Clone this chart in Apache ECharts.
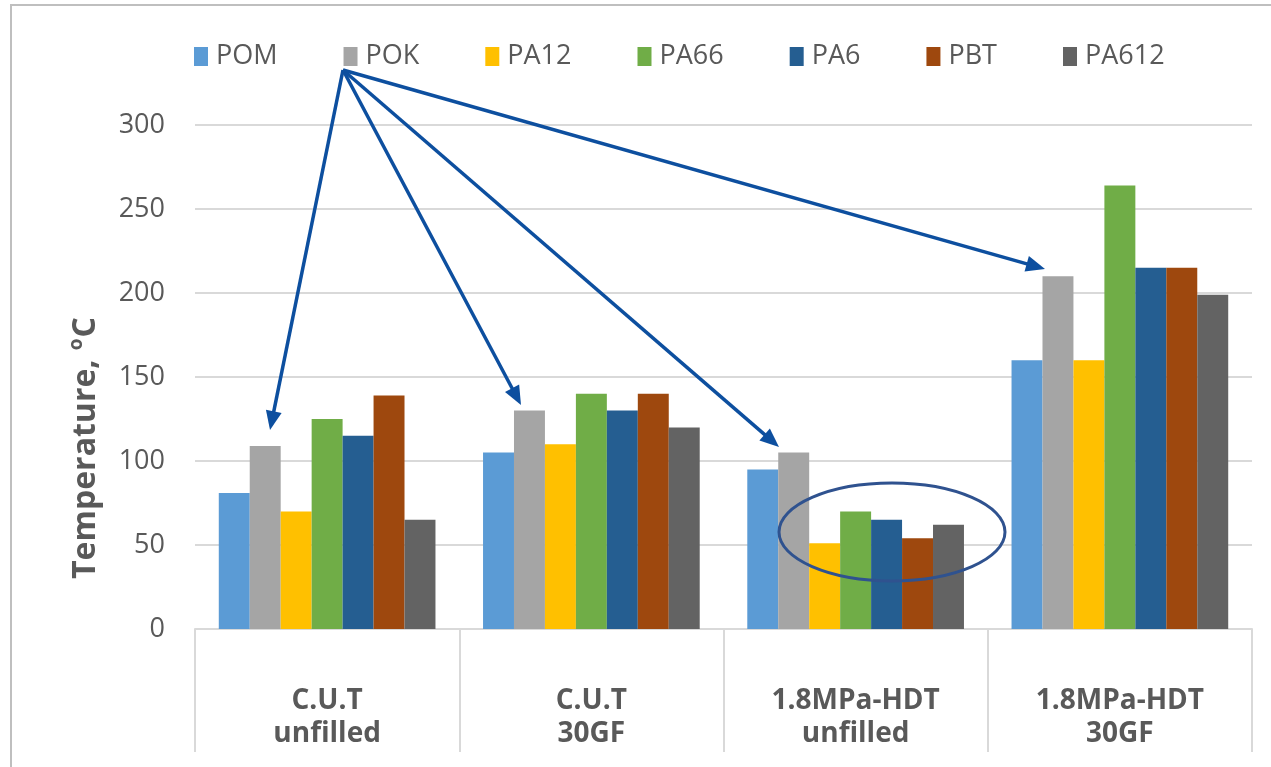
<!DOCTYPE html>
<html>
<head>
<meta charset="utf-8">
<script src="https://cdn.jsdelivr.net/npm/echarts@6/dist/echarts.min.js"></script>
<style>
  html, body { margin: 0; padding: 0; background: #fff; }
  #chart { width: 1271px; height: 767px; }
</style>
</head>
<body>
<div id="chart"></div>
<script>
// test kind on top line, filler state on second line
var testNames = ['C.U.T', 'C.U.T', '1.8MPa-HDT', '1.8MPa-HDT'];
var fillNames = ['unfilled', '30GF', 'unfilled', '30GF'];

var materials = ['POM', 'POK', 'PA12', 'PA66', 'PA6', 'PBT', 'PA612'];
var colors = ['#5b9bd5', '#a5a5a5', '#ffc000', '#70ad47', '#255e91', '#9e480e', '#636363'];

var POM   = [81, 105, 95, 160];
var POK   = [109, 130, 105, 210];
var PA12  = [70, 110, 51, 160];
var PA66  = [125, 140, 70, 264];
var PA6   = [115, 130, 65, 215];
var PBT   = [139, 140, 54, 215];
var PA612 = [65, 120, 62, 199];

var yTicks = [0, 50, 100, 150, 200, 250, 300];

var values = [POM, POK, PA12, PA66, PA6, PBT, PA612];
var categories = testNames.map(function (t, i) { return t + '\n' + fillNames[i]; });

var font = '"Open Sans", "Liberation Sans", sans-serif';
var textColor = '#595959';
var gridColor = '#d9d9d9';

var chart = echarts.init(document.getElementById('chart'));

// arrow from one point to another (annotation, pixel space)
function arrow(x1, y1, x2, y2) {
  var c = '#0d4f9f';
  var dx = x2 - x1, dy = y2 - y1;
  var len = Math.sqrt(dx * dx + dy * dy);
  var ux = dx / len, uy = dy / len;
  var hl = 19, hw = 8;
  var bx = x2 - ux * hl, by = y2 - uy * hl;
  return [{
    type: 'line',
    shape: { x1: x1, y1: y1, x2: bx + ux * 2, y2: by + uy * 2 },
    style: { stroke: c, lineWidth: 3.5 },
    z: 100
  }, {
    type: 'polygon',
    shape: { points: [[x2, y2], [bx - uy * hw, by + ux * hw], [bx + uy * hw, by - ux * hw]] },
    style: { fill: c },
    z: 100
  }];
}

var graphics = [{
  type: 'rect',
  shape: { x: 11, y: 5, width: 1400, height: 900 },
  style: { fill: 'none', stroke: '#bfbfbf', lineWidth: 2 },
  silent: true
}, {
  type: 'text',
  x: 86,
  y: 448,
  rotation: Math.PI / 2,
  style: {
    text: '{n|Temperature, }{s|o}{n|C}',
    textAlign: 'center',
    textVerticalAlign: 'middle',
    rich: {
      n: { fontSize: 32, fontWeight: 'bold', fontFamily: font, fill: textColor, lineHeight: 38 },
      s: { fontSize: 19, fontWeight: 'bold', fontFamily: font, fill: textColor, verticalAlign: 'top', lineHeight: 38, padding: [0, 1, 15, 1] }
    }
  }
}, {
  type: 'ellipse',
  shape: { cx: 892, cy: 532, rx: 113, ry: 49 },
  style: { fill: 'none', stroke: '#2f528f', lineWidth: 3 },
  z: 100
}];

graphics = graphics
  .concat(arrow(343, 70, 270, 430))
  .concat(arrow(343, 70, 521, 405))
  .concat(arrow(343, 70, 779, 447))
  .concat(arrow(343, 70, 1045, 269));

var option = {
  animation: false,
  color: colors,
  textStyle: { fontFamily: font },
  legend: {
    data: materials,
    left: 189,
    top: 38,
    itemWidth: 14,
    itemHeight: 19,
    itemGap: 66,
    icon: 'rect',
    textStyle: { fontSize: 27, color: textColor, fontFamily: font, padding: [0, 0, 0, 3] }
  },
  grid: { left: 195, right: 19, top: 125, bottom: 138 },
  xAxis: {
    type: 'category',
    data: categories,
    axisLine: { show: true, lineStyle: { color: gridColor, width: 2 } },
    axisTick: { show: true, interval: 0, length: 123, lineStyle: { color: gridColor, width: 2 } },
    axisLabel: {
      interval: 0,
      margin: 56,
      fontSize: 28,
      fontWeight: 'bold',
      color: textColor,
      lineHeight: 33,
      fontFamily: font
    }
  },
  yAxis: {
    type: 'value',
    min: yTicks[0],
    max: yTicks[yTicks.length - 1],
    interval: yTicks[1] - yTicks[0],
    axisLine: { show: false },
    axisTick: { show: false },
    splitLine: { lineStyle: { color: gridColor, width: 2 } },
    axisLabel: { fontSize: 27, color: textColor, margin: 30, fontFamily: font }
  },
  series: materials.map(function (name, i) {
    return {
      name: name,
      type: 'bar',
      data: values[i],
      barGap: '0%',
      barCategoryGap: '18%',
      itemStyle: { color: colors[i] }
    };
  }),
  graphic: graphics
};

chart.setOption(option);
</script>
</body>
</html>
